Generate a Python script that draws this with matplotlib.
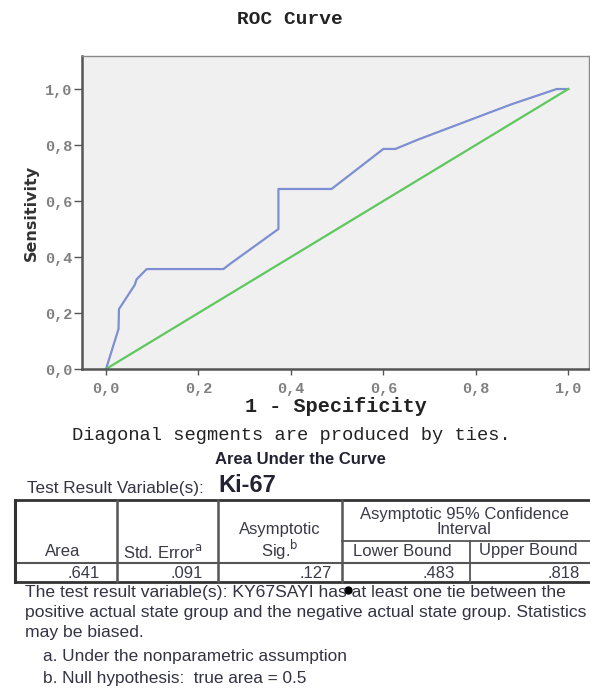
import matplotlib
matplotlib.use('Agg')
from matplotlib import pyplot as plt
from matplotlib.lines import Line2D

W, H = 590, 689

# ROC curve points
roc_fpr = [0.0, 0.027, 0.028, 0.062, 0.066, 0.088, 0.254, 0.268, 0.373, 0.373,
           0.488, 0.600, 0.626, 0.676, 0.878, 0.975, 1.0]
roc_tpr = [0.0, 0.143, 0.214, 0.30, 0.32, 0.357, 0.357, 0.375, 0.50, 0.643,
           0.643, 0.786, 0.786, 0.82, 0.946, 1.0, 1.0]
ref_x = [0.0, 1.0]
ref_y = [0.0, 1.0]

ticks = [0.0, 0.2, 0.4, 0.6, 0.8, 1.0]
tick_labels = ['0,0', '0,2', '0,4', '0,6', '0,8', '1,0']

col_headers = ['Area', r'Std. Error$^{\mathrm{a}}$', 'Asymptotic\n' + r'Sig.$^{\mathrm{b}}$']
ci_header = 'Asymptotic 95% Confidence\nInterval'
ci_sub = ['Lower Bound', 'Upper Bound']
row_values = ['.641', '.091', '.127', '.483', '.818']
notes = ['The test result variable(s): KY67SAYI has at least one tie between the',
         'positive actual state group and the negative actual state group. Statistics',
         'may be biased.']
footnotes = ['a. Under the nonparametric assumption',
             'b. Null hypothesis:  true area = 0.5']


def fx(x):
    return x / W


def fy(y):
    return 1 - y / H


fig = plt.figure(figsize=(W / 100, H / 100), dpi=100)
ax = fig.add_axes([fx(82), fy(369), fx(589 - 82), (369 - 56) / H])
ax.set_facecolor('#f0f0f0')
ax.plot(roc_fpr, roc_tpr, color='#7d8fd2', lw=1.6)
ax.plot(ref_x, ref_y, color='#5ec85e', lw=1.6)
ax.set_xlim(-0.052, 1.045)
ax.set_ylim(0, 1.118)
ax.set_xticks(ticks)
ax.set_xticklabels(tick_labels)
ax.set_yticks(ticks)
ax.set_yticklabels(tick_labels)
mono = 'Liberation Mono'
for lab in ax.get_xticklabels() + ax.get_yticklabels():
    lab.set_fontfamily(mono)
    lab.set_fontsize(11)
    lab.set_fontweight('bold')
    lab.set_color('#808080')
ax.tick_params(axis='y', direction='out', length=6, width=1, color='#555555', pad=1)
ax.tick_params(axis='x', direction='out', length=4, width=1, color='#555555', pad=5)
for s in ['left', 'bottom']:
    ax.spines[s].set_linewidth(1.8)
    ax.spines[s].set_color('#555555')
for s in ['top', 'right']:
    ax.spines[s].set_linewidth(1.0)
    ax.spines[s].set_color('#888888')
ax.set_xlabel('1 - Specificity', fontfamily=mono, fontweight='bold',
              fontsize=14.5, color='#222222', labelpad=1)
ax.set_ylabel('Sensitivity', fontfamily='DejaVu Sans', fontweight='bold',
              fontsize=11.5, color='#333333', labelpad=4)

fig.text(fx(290), fy(19), 'ROC Curve', fontfamily=mono, fontweight='bold',
         fontsize=14, ha='center', va='center', color='#222222')
fig.text(fx(291), fy(436), 'Diagonal segments are produced by ties.',
         fontfamily=mono, fontsize=13.5, ha='center', va='center', color='#222222')

sans = 'Liberation Sans'
fig.text(fx(300), fy(459), 'Area Under the Curve', fontfamily=sans,
         fontweight='bold', fontsize=12, ha='center', va='center', color='#222233')
fig.text(fx(27), fy(488), 'Test Result Variable(s):', fontfamily=sans,
         fontsize=12.3, ha='left', va='center', color='#333344')
fig.text(fx(218), fy(485), 'Ki-67', fontfamily=sans, fontweight='bold',
         fontsize=17, ha='left', va='center', color='#222233')


# table grid
def hline(x0, x1, y, lw=1.0, c='#555555'):
    fig.add_artist(Line2D([fx(x0), fx(x1)], [fy(y), fy(y)], lw=lw, color=c))


def vline(x, y0, y1, lw=1.0, c='#555555'):
    fig.add_artist(Line2D([fx(x), fx(x)], [fy(y0), fy(y1)], lw=lw, color=c))


cols = [15, 117, 218, 342, 470, 592]
hline(15, 592, 500, lw=2.0, c='#333333')
hline(342, 592, 541, lw=1.3)
hline(15, 592, 563, lw=1.5)
hline(15, 592, 582, lw=2.0, c='#333333')
vline(15, 500, 582, lw=2.2, c='#333333')
for x in cols[1:4]:
    vline(x, 500, 582, lw=1.8)
vline(470, 541, 582, lw=1.3)

tcol = '#3a3a48'
tsize = 12
fig.text(fx(63), fy(552), col_headers[0], fontfamily=sans, fontsize=tsize,
         ha='center', va='center', color=tcol)
fig.text(fx(163), fy(552), col_headers[1], fontfamily=sans, fontsize=tsize,
         ha='center', va='center', color=tcol)
fig.text(fx(280), fy(542), col_headers[2], fontfamily=sans, fontsize=tsize,
         ha='center', va='center', color=tcol, linespacing=1.0)
fig.text(fx(464), fy(522), ci_header, fontfamily=sans, fontsize=tsize,
         ha='center', va='center', color=tcol, linespacing=1.0)
fig.text(fx(402), fy(551), ci_sub[0], fontfamily=sans, fontsize=tsize,
         ha='center', va='center', color=tcol)
fig.text(fx(528), fy(551), ci_sub[1], fontfamily=sans, fontsize=tsize,
         ha='center', va='center', color=tcol)
right_edges = [100, 203, 332, 455, 580]
for x, v in zip(right_edges, row_values):
    fig.text(fx(x), fy(573), v, fontfamily=sans, fontsize=tsize,
             ha='right', va='center', color=tcol)

for i, line in enumerate(notes):
    fig.text(fx(25), fy(592 + i * 20), line, fontfamily=sans, fontsize=12.6,
             ha='left', va='center', color='#333344')
for i, line in enumerate(footnotes):
    fig.text(fx(43), fy(657 + i * 21), line, fontfamily=sans, fontsize=12.4,
             ha='left', va='center', color='#333344')

# stray black dot in the source screenshot
fig.add_artist(Line2D([fx(348)], [fy(590)], marker='o', markersize=5,
                      color='black', lw=0))

fig.savefig('out.png', dpi=100, facecolor='white')
